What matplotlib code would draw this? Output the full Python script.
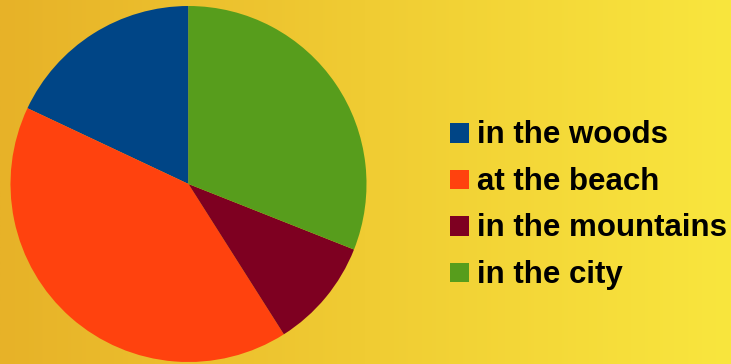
import matplotlib.pyplot as plt
import numpy as np
from matplotlib.patches import Rectangle

# where people like to spend their holidays (percent)
labels = ['in the woods', 'at the beach', 'in the mountains', 'in the city']
shares = [18, 41, 10, 31]
colors = ['#004586', '#ff420e', '#7e0021', '#579d1c']

W, H = 731, 364
fig = plt.figure(figsize=(W / 100, H / 100), dpi=100)

# background: horizontal gradient from amber to yellow
bg = fig.add_axes([0, 0, 1, 1])
left = np.array([231, 178, 40]) / 255
right = np.array([249, 230, 62]) / 255
t = np.linspace(0, 1, 256)[None, :, None]
grad = left + (right - left) * t
bg.imshow(grad, aspect='auto', extent=[0, 1, 0, 1])
bg.set_axis_off()

# pie
cx, cy, r = 188.5, 184, 178
ax = fig.add_axes([(cx - r) / W, (H - cy - r) / H, 2 * r / W, 2 * r / H])
ax.pie(shares, colors=colors, startangle=90, counterclock=True,
       wedgeprops=dict(linewidth=0))
ax.set_aspect('equal')
ax.set_xlim(-1, 1)
ax.set_ylim(-1, 1)
ax.set_axis_off()

# legend drawn by hand
sq = 19.5
x0 = 449.5
top0 = 123.5
step = 46.4
for i, (lab, col) in enumerate(zip(labels, colors)):
    top = top0 + i * step
    fig.patches.append(Rectangle((x0 / W, 1 - (top + sq) / H), sq / W, sq / H,
                                 transform=fig.transFigure, facecolor=col,
                                 edgecolor='none'))
    fig.text(477 / W, 1 - (top + sq + 0.5) / H, lab, fontsize=22.5,
             fontweight='bold', family='Liberation Sans', color='black',
             va='baseline', ha='left')

fig.savefig('out.png', dpi=100)
